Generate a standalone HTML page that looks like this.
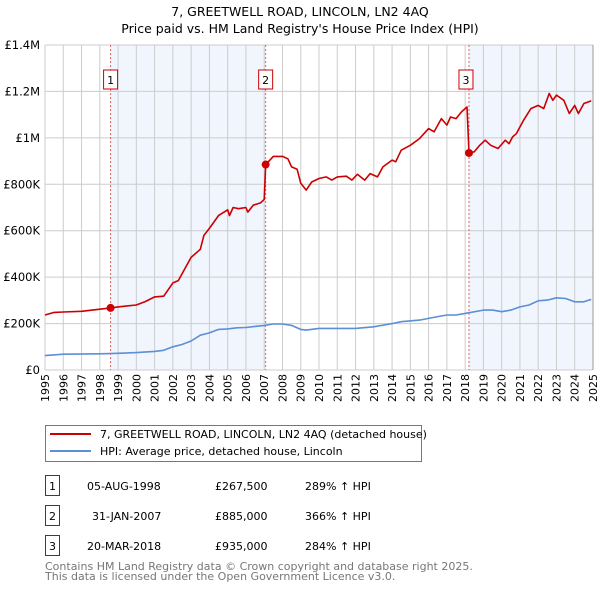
<!DOCTYPE html>
<html><head><meta charset="utf-8"><style>
body{margin:0;background:#fff;font-family:"Liberation Sans","DejaVu Sans",sans-serif;}
svg{display:block}
</style></head><body>
<svg id="c" width="600" height="590" xmlns="http://www.w3.org/2000/svg" font-family="DejaVu Sans, Liberation Sans, sans-serif">
<text x="300" y="16" text-anchor="middle" font-size="12.5">7, GREETWELL ROAD, LINCOLN, LN2 4AQ</text>
<text x="300" y="33" text-anchor="middle" font-size="12.5">Price paid vs. HM Land Registry's House Price Index (HPI)</text>
<g id="plot"></g>
<g>
<rect x="45.5" y="425.5" width="376" height="36" fill="#fff" stroke="#777"/>
<line x1="50" y1="434" x2="91" y2="434" stroke="#cc0000" stroke-width="2"/>
<text x="100" y="438" font-size="11">7, GREETWELL ROAD, LINCOLN, LN2 4AQ (detached house)</text>
<line x1="50" y1="451" x2="91" y2="451" stroke="#5b8fd6" stroke-width="2"/>
<text x="100" y="455" font-size="11">HPI: Average price, detached house, Lincoln</text>
</g>
<g font-size="11">
<rect x="45.5" y="475.5" width="14" height="20" fill="#fff" stroke="#cc0000"/><text x="52.5" y="490" text-anchor="middle">1</text>
<text x="87" y="490">05-AUG-1998</text><text x="215" y="490">£267,500</text><text x="305" y="490">289% ↑ HPI</text>
<rect x="45.5" y="505.5" width="14" height="20" fill="#fff" stroke="#cc0000"/><text x="52.5" y="520" text-anchor="middle">2</text>
<text x="92" y="520">31-JAN-2007</text><text x="215" y="520">£885,000</text><text x="305" y="520">366% ↑ HPI</text>
<rect x="45.5" y="535.5" width="14" height="20" fill="#fff" stroke="#cc0000"/><text x="52.5" y="550" text-anchor="middle">3</text>
<text x="87" y="550">20-MAR-2018</text><text x="215" y="550">£935,000</text><text x="305" y="550">284% ↑ HPI</text>
</g>
<text x="45" y="570" font-size="11" fill="#777">Contains HM Land Registry data © Crown copyright and database right 2025.</text>
<text x="45" y="580" font-size="11" fill="#777">This data is licensed under the Open Government Licence v3.0.</text>
</svg>
<script>
const yTicks=[0,200000,400000,600000,800000,1000000,1200000,1400000];
const yTickLabels=["£0","£200K","£400K","£600K","£800K","£1M","£1.2M","£1.4M"];
const years=[1995,1996,1997,1998,1999,2000,2001,2002,2003,2004,2005,2006,2007,2008,2009,2010,2011,2012,2013,2014,2015,2016,2017,2018,2019,2020,2021,2022,2023,2024,2025];
const saleDates=[1998.59,2007.08,2018.21];
const salePrices=[267500,885000,935000];
const saleLabels=["1","2","3"];
const propT=[1995,1995.5,1996,1997,1998,1998.59,1999,2000,2000.5,2001,2001.5,2002,2002.3,2003,2003.5,2003.7,2004,2004.5,2005,2005.1,2005.3,2005.6,2006,2006.1,2006.4,2006.8,2007,2007.08,2007.5,2008,2008.3,2008.5,2008.8,2009,2009.3,2009.6,2010,2010.4,2010.7,2011,2011.5,2011.8,2012.1,2012.5,2012.8,2013.2,2013.5,2014,2014.2,2014.5,2015,2015.5,2016,2016.3,2016.7,2017,2017.2,2017.5,2017.8,2018.1,2018.21,2018.5,2018.8,2019.1,2019.4,2019.8,2020.2,2020.4,2020.6,2020.8,2021.2,2021.6,2022,2022.3,2022.6,2022.8,2023,2023.4,2023.7,2024,2024.2,2024.5,2024.9];
const propV=[237,248,250,253,262,267.5,272,280,295,315,318,375,385,485,520,580,610,665,690,665,700,695,700,680,710,720,735,885,920,920,910,875,865,805,775,810,825,832,818,832,835,818,843,818,846,832,875,904,897,947,968,997,1040,1026,1083,1055,1090,1083,1112,1133,935,940,968,990,968,954,990,975,1004,1018,1076,1126,1140,1126,1191,1162,1184,1162,1105,1140,1105,1148,1159];
const hpiT=[1995,1996,1998,1999,2000,2001,2001.5,2002,2002.5,2003,2003.5,2004,2004.5,2005,2005.5,2006,2006.5,2007,2007.5,2008,2008.5,2009,2009.3,2010,2011,2012,2013,2014,2014.5,2015.5,2016.5,2017,2017.5,2018,2019,2019.5,2020,2020.5,2021,2021.5,2022,2022.5,2023,2023.5,2024,2024.5,2024.9];
const hpiV=[62,68,70,72,75,80,85,100,110,125,150,160,175,177,182,183,188,192,198,198,192,175,172,179,179,179,186,200,208,215,230,237,237,244,258,258,251,258,272,280,298,301,311,308,294,294,304];

const X0=45,X1=593,Y0=370,Y1=45;
const xs=t=>X0+(t-1995)/(2025-1995)*(X1-X0);
const ys=v=>Y0-v/1400000*(Y0-Y1);
const NS="http://www.w3.org/2000/svg";
const plot=document.getElementById('plot');
function mk(tag,attrs,parent){const e=document.createElementNS(NS,tag);for(const k in attrs)e.setAttribute(k,attrs[k]);(parent||plot).appendChild(e);return e;}

let r=mk('rect',{x:xs(saleDates[0]),y:Y1,width:xs(saleDates[1])-xs(saleDates[0]),height:Y0-Y1,fill:'#eef2fc',opacity:0.8});


r=mk('rect',{x:xs(saleDates[2]),y:Y1,width:X1-xs(saleDates[2]),height:Y0-Y1,fill:'#eef2fc',opacity:0.8});



years.forEach(y=>{
  const x=xs(y);
  const l=mk('line',{x1:x,x2:x,y1:Y1,y2:Y0,stroke:'#cccccc','stroke-width':1});
  
  
  const t=mk('text',{x:0,y:0,'font-size':11,'text-anchor':'end',transform:`translate(${x+4},${Y0+4}) rotate(-90)`});
  t.textContent=y;
  
  
});
yTicks.forEach((v,i)=>{
  const y=ys(v);
  const l=mk('line',{x1:X0,x2:X1,y1:y,y2:y,stroke:'#cccccc','stroke-width':1});
  
  
  const t=mk('text',{x:40,y:y+4,'font-size':11.5,'text-anchor':'end'});
  t.textContent=yTickLabels[i];
  
  
});
const ax=mk('line',{x1:X1,x2:X1,y1:Y1,y2:Y0,stroke:'#999','stroke-width':1});



saleDates.forEach((d,i)=>{
  const l=mk('line',{x1:xs(d),x2:xs(d),y1:Y1,y2:Y0,stroke:'#e06060','stroke-width':1,'stroke-dasharray':'2,2'});
  
  
});

function path(T,V,color,name){
  const d=T.map((t,i)=>(i?'L':'M')+xs(t).toFixed(1)+','+ys(V[i]*1000).toFixed(1)).join('');
  const p=mk('path',{d:d,fill:'none',stroke:color,'stroke-width':1.6,'stroke-linejoin':'round'});
  
  
}
path(hpiT,hpiV,'#5b8fd6','hpi-line');
path(propT,propV,'#cc0000','property-price-line');

saleDates.forEach((d,i)=>{
  const c=mk('circle',{cx:xs(d),cy:ys(salePrices[i]),r:4,fill:'#cc0000'});
  
  
  const bx=xs(d)-7-(i==2?3:0);
  const b=mk('rect',{x:bx,y:70,width:14,height:19,fill:'#fff',stroke:'#cc0000'});
  
  
  const t=mk('text',{x:bx+7,y:84,'font-size':11,'text-anchor':'middle'});
  t.textContent=saleLabels[i];
  
  
});
</script>
</body></html>
